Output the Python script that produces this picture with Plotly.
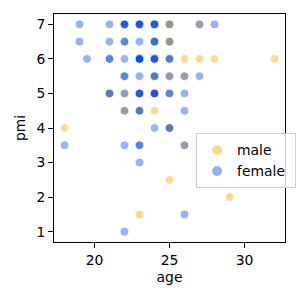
import plotly.graph_objects as go

# Data (points listed in drawing order)
age = [19, 21, 22, 22, 22, 22, 23, 23, 23, 23, 23, 24, 24, 24, 24, 24, 25, 25, 25, 27, 27, 28,
       19, 21, 22, 22, 23, 24, 24, 24, 25, 25, 25,
       19.5, 21, 21, 22, 23, 23, 23, 23, 23, 23, 24, 24, 24, 24, 24, 25, 25, 25, 26, 27, 28, 32,
       22, 22, 23, 24, 24, 24, 25, 25, 26, 26, 27,
       21, 21, 21, 22, 22, 23, 23, 23, 23, 24, 24, 24, 24, 24, 25, 25, 26,
       22, 22, 23, 23, 23, 24, 26,
       18, 24, 25, 25, 25,
       18, 22, 23, 23, 26, 26,
       23, 25, 29, 23, 26, 22]
pmi = [7, 7, 7, 7, 7, 7, 7, 7, 7, 7, 7, 7, 7, 7, 7, 7, 7, 7, 7, 7, 7, 7,
       6.5, 6.5, 6.5, 6.5, 6.5, 6.5, 6.5, 6.5, 6.5, 6.5, 6.5,
       6, 6, 6, 6, 6, 6, 6, 6, 6, 6, 6, 6, 6, 6, 6, 6, 6, 6, 6, 6, 6, 6,
       5.5, 5.5, 5.5, 5.5, 5.5, 5.5, 5.5, 5.5, 5.5, 5.5, 5.5,
       5, 5, 5, 5, 5, 5, 5, 5, 5, 5, 5, 5, 5, 5, 5, 5, 5,
       4.5, 4.5, 4.5, 4.5, 4.5, 4.5, 4.5,
       4, 4, 4, 4, 4,
       3.5, 3.5, 3.5, 3.5, 3.5, 3.5,
       3, 2.5, 2, 1.5, 1.5, 1]
sex = ["F", "F", "F", "F", "F", "F", "M", "F", "F", "F", "F", "M", "F", "F", "F", "F", "F", "F", "M", "M", "F", "F",
       "F", "F", "F", "F", "F", "F", "F", "F", "F", "F", "M",
       "F", "F", "F", "F", "F", "F", "F", "F", "F", "F", "M", "F", "F", "F", "F", "M", "F", "F", "M", "M", "M", "M",
       "F", "F", "F", "M", "F", "F", "M", "F", "M", "F", "F",
       "M", "F", "F", "M", "F", "F", "F", "F", "F", "M", "F", "F", "F", "F", "F", "F", "F",
       "M", "F", "M", "F", "F", "M", "F",
       "M", "F", "M", "F", "F",
       "F", "F", "F", "F", "M", "F",
       "F", "M", "M", "M", "F", "F"]

hue_names = {"M": "male", "F": "female"}
hue_order = ["M", "F"]
colors = {"M": "rgb(255,163,5)", "F": "rgb(5,75,210)"}
alpha = 0.42

font = dict(family="DejaVu Sans", size=13.9, color="black")

fig = go.Figure()
fig.add_trace(go.Scatter(
    x=age, y=pmi, mode="markers", showlegend=False, hoverinfo="skip",
    marker=dict(size=8.6, color=[colors[s] for s in sex], opacity=alpha,
                line=dict(color="white", width=0.75)),
))
for h in hue_order:
    fig.add_trace(go.Scatter(
        x=[None], y=[None], mode="markers", name=hue_names[h] + "\u00a0",
        marker=dict(size=8.6, color=colors[h], opacity=alpha,
                    line=dict(color="white", width=0.75)),
    ))

axis_common = dict(
    showgrid=False, zeroline=False, showline=True, linecolor="black", linewidth=1.1,
    mirror=True, ticks="outside", ticklen=4.9, tickwidth=1.1, tickcolor="black",
    tickfont=font,
)
fig.update_layout(
    width=300, height=300,
    margin=dict(l=54, r=15, t=14, b=58, autoexpand=False),
    paper_bgcolor="white", plot_bgcolor="white",
    font=font,
    xaxis=dict(range=[17.3, 32.7], tickvals=[20, 25, 30],
               title=dict(text="age", font=font, standoff=5), **axis_common),
    yaxis=dict(range=[0.7, 7.3], tickvals=[1, 2, 3, 4, 5, 6, 7],
               title=dict(text="pmi", font=font, standoff=7), **axis_common),
    legend=dict(x=0.615, y=0.476, xanchor="left", yanchor="top",
                bgcolor="rgba(255,255,255,0.8)", bordercolor="#cccccc", borderwidth=1,
                font=font, itemsizing="constant", tracegroupgap=0),
)

fig.write_html("out.html")
